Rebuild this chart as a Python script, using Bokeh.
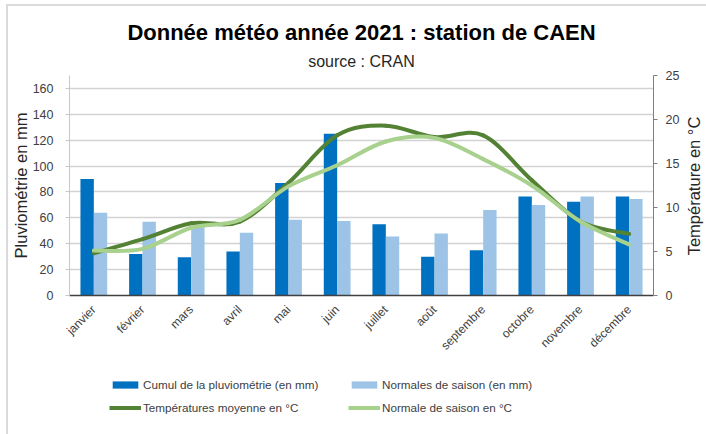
import numpy as np
from bokeh.plotting import figure
from bokeh.layouts import column, row
from bokeh.models import (Range1d, LinearAxis, FixedTicker, ColumnDataSource,
                          Legend, LegendItem, Title)
from bokeh.embed import file_html
from bokeh.resources import INLINE

# ---------------- data ----------------
months = ["janvier", "février", "mars", "avril", "mai", "juin", "juillet",
          "août", "septembre", "octobre", "novembre", "décembre"]
rain_2021 = [90, 32, 29.5, 34, 87, 125, 55, 30, 35, 76.5, 72.5, 76.5]
rain_normal = [64, 57, 53, 48.5, 58.5, 57.5, 45.5, 48, 66, 70, 76.5, 74.5]
temp_2021 = [4.8, 6.4, 8.2, 8.4, 12.8, 18.2, 19.3, 18.0, 18.2, 13.1, 8.4, 7.0]
temp_normal = [5.1, 5.3, 7.7, 8.6, 12.4, 14.8, 17.5, 17.9, 15.5, 12.5, 8.4, 5.8]
rain_ticks = [0, 20, 40, 60, 80, 100, 120, 140, 160]
temp_ticks = [0, 5, 10, 15, 20, 25]

FONT = "Liberation Sans"
DARK_BLUE = "#0070C0"
LIGHT_BLUE = "#9DC3E6"
DARK_GREEN = "#548235"
LIGHT_GREEN = "#A9D18E"
AXIS_LABEL_SIZE = "16.5px"

xpos = np.arange(len(months)) + 0.5
bar_w = 0.275


def smooth(xs, ys):
    """Bezier control points (Catmull-Rom style, like a smoothed Excel line)."""
    n = len(xs)
    d = dict(x0=[], y0=[], x1=[], y1=[], cx0=[], cy0=[], cx1=[], cy1=[])
    for i in range(n - 1):
        a = max(i - 1, 0)
        b = min(i + 2, n - 1)
        d["x0"].append(xs[i]); d["y0"].append(ys[i])
        d["x1"].append(xs[i + 1]); d["y1"].append(ys[i + 1])
        d["cx0"].append(xs[i] + (xs[i + 1] - xs[a]) / 6.0)
        d["cy0"].append(ys[i] + (ys[i + 1] - ys[a]) / 6.0)
        d["cx1"].append(xs[i + 1] - (xs[b] - xs[i]) / 6.0)
        d["cy1"].append(ys[i + 1] - (ys[b] - ys[i]) / 6.0)
    return ColumnDataSource(d)


MAIN_W = 684
p = figure(width=MAIN_W, height=360, output_backend="svg", toolbar_location=None,
           x_range=Range1d(0, len(months)), y_range=Range1d(0, 170),
           title=None, min_border_left=69, min_border_right=31,
           min_border_top=75, min_border_bottom=64)
p.extra_y_ranges = {"temp": Range1d(0, 25)}
p.outline_line_color = None
p.background_fill_alpha = 0
p.border_fill_alpha = 0

# titles (subtitle first: nearest the plot)
p.add_layout(Title(text="source : CRAN", align="center", text_font=FONT,
                   text_font_size="16px", text_font_style="normal",
                   text_color="#262626", standoff=12), "above")
p.add_layout(Title(text="Donnée météo année 2021 : station de CAEN", align="center",
                   text_font=FONT, text_font_size="22px", text_font_style="bold",
                   text_color="#000000", standoff=0), "above")

# bars
src = ColumnDataSource(dict(x1=xpos - bar_w / 2, x2=xpos + bar_w / 2,
                            r1=rain_2021, r2=rain_normal))
p.vbar(x="x1", top="r1", width=bar_w, source=src, fill_color=DARK_BLUE,
       line_color=None)
p.vbar(x="x2", top="r2", width=bar_w, source=src, fill_color=LIGHT_BLUE,
       line_color=None)

# smoothed temperature lines
p.bezier(x0="x0", y0="y0", x1="x1", y1="y1", cx0="cx0", cy0="cy0",
         cx1="cx1", cy1="cy1", source=smooth(list(xpos), temp_2021),
         line_color=DARK_GREEN, line_width=4, line_cap="round",
         y_range_name="temp")
p.bezier(x0="x0", y0="y0", x1="x1", y1="y1", cx0="cx0", cy0="cy0",
         cx1="cx1", cy1="cy1", source=smooth(list(xpos), temp_normal),
         line_color=LIGHT_GREEN, line_width=4, line_cap="round",
         y_range_name="temp")

# grid
p.xgrid.grid_line_color = None
p.ygrid.ticker = FixedTicker(ticks=rain_ticks[1:])
p.ygrid.grid_line_color = "#d2d2d2"
p.ygrid.grid_line_width = 1.5
p.ygrid.level = "underlay"

# x axis
xa = p.xaxis[0]
xa.ticker = FixedTicker(ticks=list(xpos))
xa.major_label_overrides = {float(x): m for x, m in zip(xpos, months)}
xa.major_label_orientation = np.pi / 4
xa.major_tick_line_color = None
xa.minor_tick_line_color = None
xa.axis_line_color = "#404040"
xa.axis_line_width = 1.5
xa.major_label_text_font = FONT
xa.major_label_text_font_size = "12px"
xa.major_label_text_color = "#404040"
xa.major_label_standoff = 6

# left axis
ya = p.yaxis[0]
ya.ticker = FixedTicker(ticks=rain_ticks)
ya.axis_line_color = "#c8c8c8"
ya.major_tick_line_color = "#c8c8c8"
ya.major_tick_out = 4
ya.major_tick_in = 0
ya.minor_tick_line_color = None
ya.major_label_text_font = FONT
ya.major_label_text_font_size = "12.5px"
ya.major_label_text_color = "#404040"
ya.major_label_standoff = 12
ya.axis_label = "Pluviométrie en mm"
ya.axis_label_text_font = FONT
ya.axis_label_text_font_size = AXIS_LABEL_SIZE
ya.axis_label_text_font_style = "normal"
ya.axis_label_text_color = "#262626"
ya.axis_label_standoff = 0

# right axis (ticks only; its title is drawn by the narrow strip on the right)
ra = LinearAxis(y_range_name="temp", ticker=FixedTicker(ticks=temp_ticks))
ra.axis_line_color = "#7f7f7f"
ra.major_tick_line_color = "#7f7f7f"
ra.major_tick_out = 4
ra.major_tick_in = 0
ra.minor_tick_line_color = None
ra.major_label_text_font = FONT
ra.major_label_text_font_size = "12.5px"
ra.major_label_text_color = "#404040"
ra.major_label_standoff = 8
p.add_layout(ra, "right")

# ---------------- right title strip (axis title reading upwards) ----------------
STRIP_W = 706 - MAIN_W
r = figure(width=STRIP_W, height=360, output_backend="svg", toolbar_location=None,
           x_range=Range1d(0, 1), y_range=Range1d(0, 25), title=None,
           x_axis_location=None, min_border_left=STRIP_W - 1, min_border_right=0,
           min_border_top=75, min_border_bottom=64)
r.outline_line_color = None
r.grid.visible = False
r.border_fill_alpha = 0
r.background_fill_alpha = 0
ry = r.yaxis[0]
ry.ticker = FixedTicker(ticks=[])
ry.axis_line_color = None
ry.major_tick_line_color = None
ry.minor_tick_line_color = None
ry.major_tick_out = 0
ry.major_label_standoff = 0
ry.axis_label = "Température en °C"
ry.axis_label_text_font = FONT
ry.axis_label_text_font_size = AXIS_LABEL_SIZE
ry.axis_label_text_font_style = "normal"
ry.axis_label_text_color = "#262626"
ry.axis_label_standoff = 4

# ---------------- legend strip (second figure below) ----------------
q = figure(width=MAIN_W, height=74, output_backend="svg", toolbar_location=None,
           x_range=Range1d(0, len(months)), y_range=Range1d(0, 170),
           x_axis_location=None, y_axis_location=None, title=None,
           min_border_left=0, min_border_right=0, min_border_top=0,
           min_border_bottom=0)
q.extra_y_ranges = {"temp": Range1d(0, 25)}
q.outline_line_color = None
q.grid.visible = False
q.background_fill_alpha = 0
q.border_fill_alpha = 0

g1 = q.vbar(x="x1", top="r1", width=bar_w, source=src, fill_color=DARK_BLUE,
            line_color=None, visible=False)
g2 = q.vbar(x="x2", top="r2", width=bar_w, source=src, fill_color=LIGHT_BLUE,
            line_color=None, visible=False)
g3 = q.line(x=list(xpos), y=temp_2021, line_color=DARK_GREEN, line_width=4,
            y_range_name="temp", visible=False)
g4 = q.line(x=list(xpos), y=temp_normal, line_color=LIGHT_GREEN, line_width=4,
            y_range_name="temp", visible=False)


def make_legend(items, x):
    return Legend(items=items, location=(x, 20), orientation="vertical",
                  padding=0, margin=0, spacing=10, glyph_width=32, glyph_height=9,
                  label_height=13, label_standoff=2, border_line_color=None,
                  background_fill_alpha=0, label_text_font=FONT,
                  label_text_font_size="11.7px", label_text_color="#404040",
                  click_policy="none")


q.add_layout(make_legend([
    LegendItem(label="Cumul de la pluviométrie (en mm)", renderers=[g1]),
    LegendItem(label="Températures moyenne en °C", renderers=[g3])], 40), "center")
q.add_layout(make_legend([
    LegendItem(label="Normales de saison (en mm)", renderers=[g2]),
    LegendItem(label="Normale de saison en °C", renderers=[g4])], 279), "center")

layout = row(column(p, q, spacing=0), r, spacing=0)
# light grey chart-area border (top and left edges), as in the Excel chart
layout.styles = {
    "background-color": "white",
    "background-image": "linear-gradient(#dadada, #dadada), linear-gradient(#dadada, #dadada)",
    "background-size": "100% 2px, 2px 100%",
    "background-position": "7px 4px, 6px 4px",
    "background-repeat": "no-repeat",
}
open("out.html", "w").write(file_html(layout, INLINE))
